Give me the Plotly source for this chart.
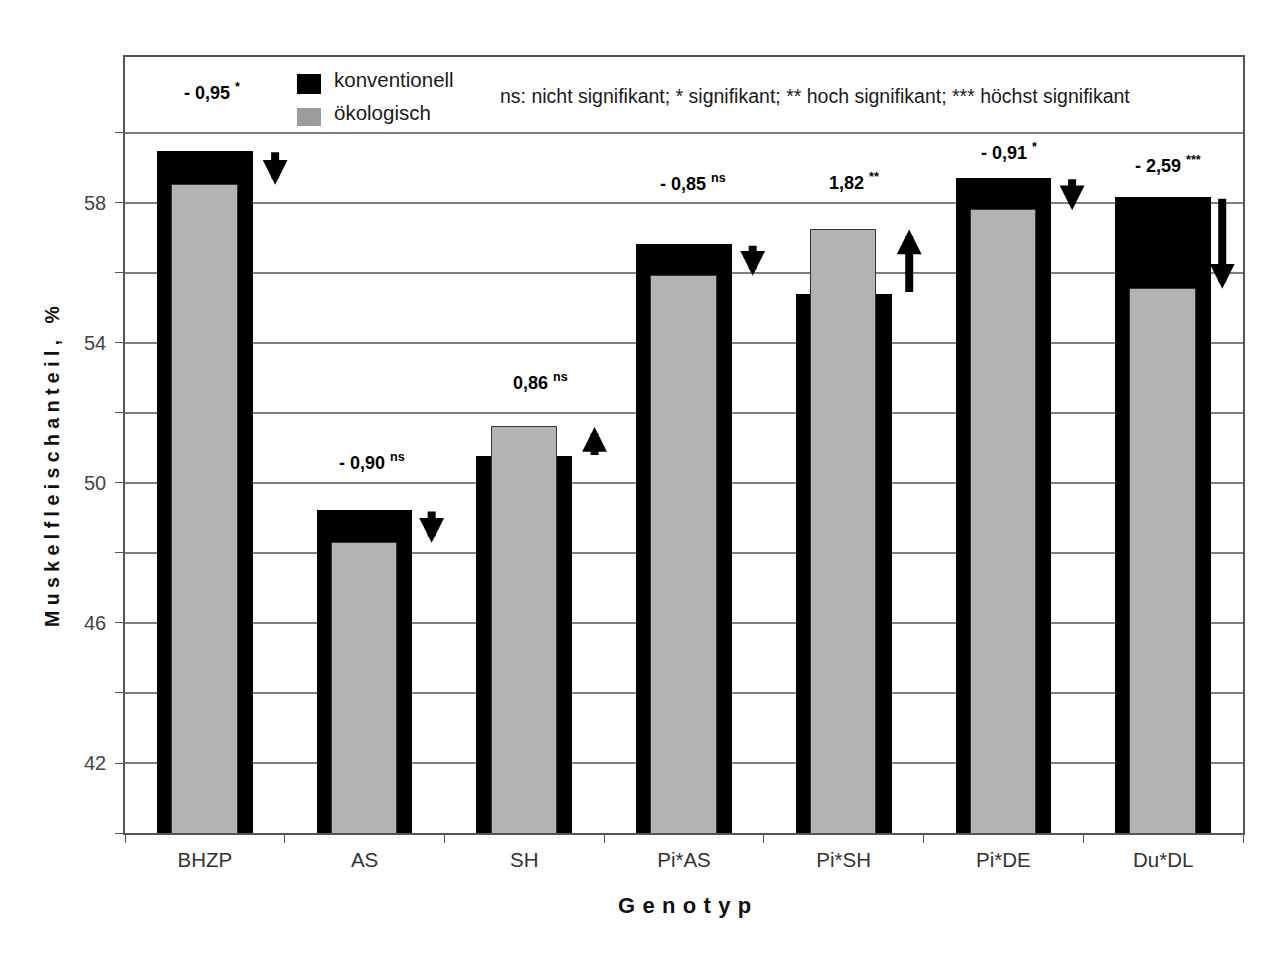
import plotly.graph_objects as go

# ---- data ----
genotypes = ["BHZP", "AS", "SH", "Pi*AS", "Pi*SH", "Pi*DE", "Du*DL"]
konventionell = [59.49, 49.23, 50.76, 56.82, 55.41, 58.72, 58.16]
oekologisch = [58.52, 48.29, 51.60, 55.92, 57.24, 57.79, 55.55]
differenz = ["- 0,95", "- 0,90", "0,86", "- 0,85", "1,82", "- 0,91", "- 2,59"]
signifikanz = ["*", "ns", "ns", "ns", "**", "*", "***"]
y_ticks_labeled = [42, 46, 50, 54, 58]
legend_names = ["konventionell", "ökologisch"]
note_text = "ns: nicht signifikant; * signifikant; ** hoch signifikant; *** höchst signifikant"
x_title = "Genotyp"
y_title = "Muskelfleischanteil, %"

# ---- layout constants ----
FONT = "Liberation Sans, Arial, sans-serif"
COL_KONV = "black"
COL_OEKO = "#b3b3b3"
COL_OEKO_LEG = "#9c9c9c"
label_offset = [1.7, 1.37, 1.3, 1.77, 1.36, 0.74, 0.94]
label_xshift = [7, 7, 16, 9, 10, 6, 5]
arrow_dx = [0.44, 0.42, 0.44, 0.43, 0.41, 0.43, 0.37]

fig = go.Figure()
fig.add_trace(go.Bar(x=genotypes, y=konventionell, width=0.6, marker_color=COL_KONV,
                     marker_line_width=0, showlegend=False, name=legend_names[0]))
fig.add_trace(go.Bar(x=genotypes, y=oekologisch, width=0.41, marker_color=COL_OEKO,
                     marker_line=dict(color="#333333", width=1), showlegend=False,
                     name=legend_names[1]))

ann = []
for i, g in enumerate(genotypes):
    top = max(konventionell[i], oekologisch[i])
    ann.append(dict(x=i, y=top + label_offset[i], xref="x", yref="y",
                    xshift=label_xshift[i],
                    text=f"<b>{differenz[i]} <sup>{signifikanz[i]}</sup></b>",
                    showarrow=False, font=dict(family=FONT, size=18, color="black")))
    ann.append(dict(x=i + arrow_dx[i], y=oekologisch[i], xref="x", yref="y",
                    ax=i + arrow_dx[i], ay=konventionell[i], axref="x", ayref="y",
                    text="", showarrow=True, arrowhead=2, arrowsize=0.62,
                    arrowwidth=8, arrowcolor="black", standoff=0, startstandoff=0))

# note
ann.append(dict(x=0.3336, y=0.9497, xref="paper", yref="paper", xanchor="left",
                yanchor="middle", text=note_text, showarrow=False,
                font=dict(family=FONT, size=19.5, color="#1a1a1a")))

# legend (squares + labels)
shapes = [
    dict(type="rect", xref="paper", yref="paper", x0=0.1538, x1=0.1753,
         y0=0.9523, y1=0.9781, fillcolor=COL_KONV, line_width=0),
    dict(type="rect", xref="paper", yref="paper", x0=0.1538, x1=0.1753,
         y0=0.9111, y1=0.9343, fillcolor=COL_OEKO_LEG, line_width=0),
]
ann.append(dict(x=0.1852, y=0.9704, xref="paper", yref="paper", xanchor="left",
                yanchor="middle", text=legend_names[0], showarrow=False,
                font=dict(family=FONT, size=20.5, color="#1a1a1a")))
ann.append(dict(x=0.1852, y=0.929, xref="paper", yref="paper", xanchor="left",
                yanchor="middle", text=legend_names[1], showarrow=False,
                font=dict(family=FONT, size=20.5, color="#1a1a1a")))

# axis titles (letter-spaced)
ann.append(dict(x=-0.0653, y=0.473, xref="paper", yref="paper", textangle=-90,
                text="<b>" + "\u00a0".join(list(y_title)) + "</b>", showarrow=False,
                xanchor="center", yanchor="middle",
                font=dict(family=FONT, size=19.5, color="#111111")))
ann.append(dict(x=0.5005, y=-0.0928, xref="paper", yref="paper",
                text="<b>" + "\u2004".join(list(x_title)) + "</b>", showarrow=False,
                xanchor="center", yanchor="middle",
                font=dict(family=FONT, size=22, color="#111111")))

tickvals_y = list(range(40, 61, 2))
ticktext_y = [str(v) if v in y_ticks_labeled else "" for v in tickvals_y]

fig.update_layout(
    width=1280, height=960,
    margin=dict(l=117, r=45, t=49, b=135),
    paper_bgcolor="white", plot_bgcolor="white",
    barmode="overlay", bargap=0, showlegend=False,
    font=dict(family=FONT, color="#333333"),
    annotations=ann, shapes=shapes,
    xaxis=dict(type="category", range=[-0.5, 6.5], showgrid=False,
               showline=True, linecolor="#555555", linewidth=1.5, mirror=True,
               ticks="outside", tickson="boundaries", ticklen=8, tickcolor="#555555",
               ticklabelstandoff=8,
               tickfont=dict(family=FONT, size=20.5, color="#333333")),
    yaxis=dict(range=[40, 62.17], tickvals=tickvals_y, ticktext=ticktext_y,
               showgrid=True, gridcolor="#808080", gridwidth=1.5,
               showline=True, linecolor="#555555", linewidth=1.5, mirror=True,
               ticks="outside", ticklen=8, tickcolor="#555555",
               ticklabelstandoff=5,
               tickfont=dict(family=FONT, size=20, color="#444444"),
               zeroline=False),
)

fig.write_html("out.html")
